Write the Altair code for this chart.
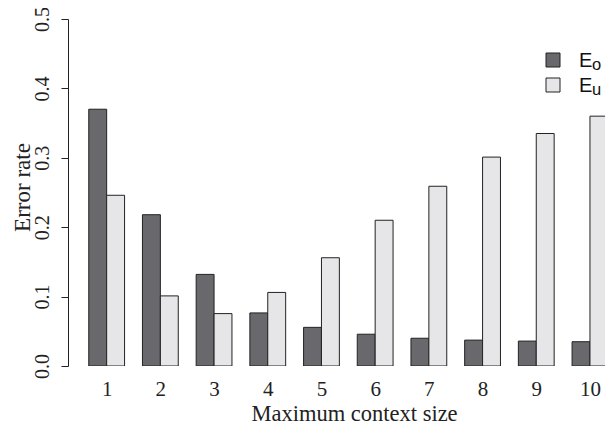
import altair as alt
import pandas as pd

# ---- data ----
context_sizes = [1, 2, 3, 4, 5, 6, 7, 8, 9, 10]
e_o = [0.370, 0.218, 0.132, 0.0765, 0.0557, 0.0458, 0.040, 0.0373, 0.0359, 0.035]
e_u = [0.246, 0.101, 0.0755, 0.106, 0.156, 0.210, 0.259, 0.301, 0.335, 0.360]
series_keys = ["o", "u"]
series_colors = ["#69696d", "#e6e6e8"]
y_ticks = [0.0, 0.1, 0.2, 0.3, 0.4, 0.5]

rows = []
for c, vo, vu in zip(context_sizes, e_o, e_u):
    rows.append({"ctx": c, "series": "o", "offset": 0, "rate": vo})
    rows.append({"ctx": c, "series": "u", "offset": 1, "rate": vu})
df = pd.DataFrame(rows)

SERIF = "Liberation Serif"
FS = 21

x_scale = alt.Scale(domain=[-0.16, 29.84], nice=False, zero=False)
y_scale = alt.Scale(domain=[0, 0.5], nice=False)

bars = alt.Chart(df).transform_calculate(
    x0="3*datum.ctx - 2 + datum.offset",
    x1="3*datum.ctx - 1 + datum.offset",
).mark_rect(stroke="#222222", strokeWidth=1, clip=True).encode(
    x=alt.X(
        "x0:Q",
        scale=x_scale,
        axis=alt.Axis(
            values=[3 * c - 1 for c in context_sizes],
            labelExpr="(datum.value + 1) / 3",
            domain=False,
            ticks=False,
            grid=False,
            labelFont=SERIF,
            labelFontSize=FS,
            labelColor="#222222",
            labelPadding=12,
            labelFlush=False,
            labelOverlap=False,
            title="Maximum context size",
            titleFont=SERIF,
            titleFontSize=22.5,
            titleFontWeight="normal",
            titleColor="#222222",
            titlePadding=3,
            titleX=286,
        ),
    ),
    x2="x1:Q",
    y=alt.Y(
        "rate:Q",
        scale=y_scale,
        axis=alt.Axis(
            values=y_ticks,
            format=".1f",
            grid=False,
            domainColor="#222222",
            tickColor="#222222",
            tickSize=7,
            labelAngle=-90,
            labelAlign="center",
            labelBaseline="bottom",
            labelPadding=9,
            labelFont=SERIF,
            labelFontSize=20,
            labelColor="#222222",
            labelFlush=False,
            title="Error rate",
            titleFont=SERIF,
            titleFontSize=23,
            titleFontWeight="normal",
            titleColor="#222222",
            titleX=-46,
            titleY=168,
            titleAngle=-90,
            titleAlign="center",
            titleBaseline="middle",
        ),
    ),
    y2=alt.datum(0),
    color=alt.Color(
        "series:N",
        scale=alt.Scale(domain=series_keys, range=series_colors),
        legend=None,
    ),
)

# ---- manual legend with subscripts ----
legend_layers = []
for i, (key, col) in enumerate(zip(series_keys, series_colors)):
    base = alt.Chart(pd.DataFrame({"k": [key]}))
    dy = 25 * i
    legend_layers.append(
        base.mark_square(size=196, fill=col, stroke="#222222", strokeWidth=1, opacity=1).encode(
            x=alt.value(485), y=alt.value(41 + dy)
        )
    )
    legend_layers.append(
        base.mark_text(font="Liberation Sans", fontSize=20, align="left", baseline="alphabetic", color="#111111").encode(
            x=alt.value(511), y=alt.value(48 + dy), text=alt.value("E")
        )
    )
    legend_layers.append(
        base.mark_text(font="Liberation Sans", fontSize=16.5, align="left", baseline="alphabetic", color="#111111").encode(
            x=alt.value(524), y=alt.value(51 + dy), text="k:N"
        )
    )

chart = alt.layer(bars, *legend_layers).properties(
    width=537,
    height=347,
    autosize=alt.AutoSizeParams(type="none"),
    padding={"left": 60, "top": 11, "right": 0, "bottom": 59},
    background="white",
).configure_view(stroke=None)

chart.save("out.html", embed_options={"renderer": "svg", "actions": False})
